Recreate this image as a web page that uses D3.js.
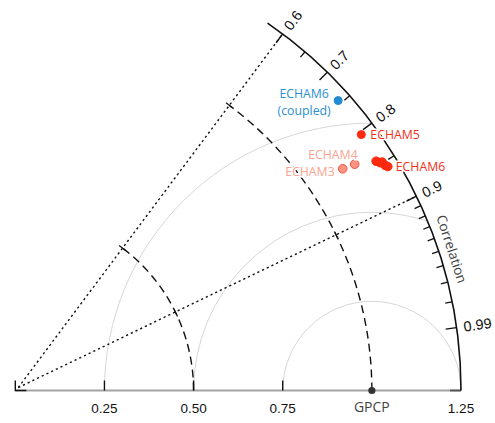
<!DOCTYPE html>
<html><head><meta charset="utf-8">
<script src="https://cdn.jsdelivr.net/npm/d3@7"></script>
<style>
html,body{margin:0;padding:0;background:#fff;}
svg{display:block;}
</style></head>
<body>
<svg id="chart" width="495" height="423"></svg>
<script>
// ---- data ----
const stdTicks = [0.25, 0.50, 0.75, 1.25];
const stdTickLabels = ["0.25", "0.50", "0.75", "1.25"];
const refName = "GPCP";
const refStd = 1.0;
const corrMajor = [0.6, 0.7, 0.8, 0.9, 0.99];
const corrMajorLabels = ["0.6", "0.7", "0.8", "0.9", "0.99"];
const corrMinor = [0.65, 0.75, 0.85, 0.91, 0.92, 0.93, 0.94, 0.95, 0.96, 0.97, 0.98];
const corrLines = [0.6, 0.9];
const stdArcs = [0.5, 1.0];
const rmsCircles = [0.25, 0.5, 0.75];
const pointNames = ["ECHAM6 (coupled)", "ECHAM5", "ECHAM4", "ECHAM3", "ECHAM6", "ECHAM6", "ECHAM6", "ECHAM6", "ECHAM6"];
const pointStd  = [1.217, 1.207, 1.144, 1.109, 1.199, 1.206, 1.212, 1.214, 1.219];
const pointCorr = [0.744, 0.804, 0.832, 0.828, 0.844, 0.848, 0.849, 0.854, 0.857];

// ---- layout ----
const svg = d3.select("#chart");
const cx = 15.3, cy = 390.5;
const maxStd = 1.25;
const r = d3.scaleLinear().domain([0, maxStd]).range([0, 445.7]);
const arcEndCorr = 0.566;
const pt = (s, c) => [cx + r(s) * c, cy - r(s) * Math.sqrt(1 - c * c)];
const g = svg.append("g");

const styleOf = {
  "ECHAM6 (coupled)": {fill: "#1f8bd0", stroke: "#1f8bd0", rad: 4, label: "#2a90d2"},
  "ECHAM5": {fill: "#ff2a0e", stroke: "#ff2a0e", rad: 4, label: "#f5301a"},
  "ECHAM4": {fill: "#fb9282", stroke: "#f2553f", rad: 4.3, label: "#f9a291"},
  "ECHAM3": {fill: "#fb9282", stroke: "#f2553f", rad: 4.3, label: "#f9a291"},
  "ECHAM6": {fill: "#ff2a0e", stroke: "#ff2a0e", rad: 4.3, label: "#f5301a"}
};

// clip for RMS circles
svg.append("clipPath").attr("id", "clipQ").append("path")
  .attr("d", () => {
    const p = d3.path();
    p.moveTo(cx, cy);
    p.lineTo(cx + r(maxStd), cy);
    p.arc(cx, cy, r(maxStd), 0, -Math.PI / 2, true);
    p.closePath();
    return p.toString();
  });

// RMS circles centered on reference
g.append("g").attr("clip-path", "url(#clipQ)")
  .selectAll("path").data(rmsCircles).join("path")
  .attr("d", d => {
    const p = d3.path();
    const x0 = cx + r(refStd);
    p.moveTo(x0 + r(d), cy);
    p.arc(x0, cy, r(d), 0, Math.PI, true);
    return p.toString();
  })
  .attr("fill", "none").attr("stroke", "#d6d6d6").attr("stroke-width", 1);

// baseline
g.append("line").attr("x1", cx).attr("x2", cx + r(maxStd)).attr("y1", cy).attr("y2", cy)
  .attr("stroke", "#a3a3a3").attr("stroke-width", 1.8);
g.append("path").attr("d", `M${cx},${cy - 10}V${cy}H${cx + 11}`)
  .attr("fill", "none").attr("stroke", "#111").attr("stroke-width", 1.4);
g.append("line").attr("x1", cx + r(maxStd) - 11).attr("x2", cx + r(maxStd)).attr("y1", cy).attr("y2", cy)
  .attr("stroke", "#555").attr("stroke-width", 1.8);

// correlation dotted lines
g.selectAll(".cl").data(corrLines).join("line")
  .attr("x1", cx + 3).attr("y1", cy - 3)
  .attr("x2", d => pt(maxStd, d)[0]).attr("y2", d => pt(maxStd, d)[1])
  .attr("stroke", "#111").attr("stroke-width", 1.4).attr("stroke-dasharray", "2.2,3");

// std dashed arcs
g.selectAll(".sa").data(stdArcs).join("path")
  .attr("d", d => {
    const p = d3.path();
    p.moveTo(cx + r(d), cy);
    p.arc(cx, cy, r(d), 0, -Math.acos(corrLines[0]), true);
    return p.toString();
  })
  .attr("fill", "none").attr("stroke", "#111").attr("stroke-width", 1.4).attr("stroke-dasharray", "8,5");

// small ticks where std arcs meet correlation lines
const crossTicks = [];
stdArcs.forEach(s => corrLines.forEach(c => crossTicks.push([s, c])));
g.selectAll(".xt").data(crossTicks).join("line")
  .each(function(d) {
    const [x, y] = pt(d[0], d[1]);
    const a = Math.acos(d[1]);
    const tx = Math.sin(a) * 4, ty = Math.cos(a) * 4;
    d3.select(this).attr("x1", x - tx).attr("y1", y - ty).attr("x2", x + tx).attr("y2", y + ty);
  })
  .attr("stroke", "#111").attr("stroke-width", 1.2);

// std axis ticks
g.selectAll(".st").data(stdTicks.filter(d => d < maxStd)).join("line")
  .attr("x1", d => cx + r(d)).attr("x2", d => cx + r(d))
  .attr("y1", cy).attr("y2", cy - 10)
  .attr("stroke", "#111").attr("stroke-width", 1.4);
g.selectAll(".sl").data(stdTicks).join("text")
  .attr("x", d => cx + r(d)).attr("y", 412.7)
  .attr("text-anchor", "middle")
  .attr("font-family", "Liberation Sans, Arial, sans-serif").attr("font-size", 13.5).attr("fill", "#111")
  .text((d, i) => stdTickLabels[i]);

// reference point
g.append("circle").attr("cx", cx + r(refStd)).attr("cy", cy).attr("r", 3.6).attr("fill", "#333");
g.append("text").attr("x", cx + r(refStd)).attr("y", 411.7).attr("text-anchor", "middle")
  .attr("font-family", "Open Sans, sans-serif").attr("font-size", 14).attr("fill", "#444").text(refName);

// outer arc
g.append("path").attr("d", () => {
  const p = d3.path();
  p.moveTo(cx + r(maxStd), cy);
  p.arc(cx, cy, r(maxStd), 0, -Math.acos(arcEndCorr), true);
  return p.toString();
}).attr("fill", "none").attr("stroke", "#111").attr("stroke-width", 1.6);

// correlation ticks
const tickLine = (c, len) => {
  const [x1, y1] = pt(maxStd, c);
  const s = r.invert(r(maxStd) - len);
  const [x2, y2] = pt(s, c);
  return {x1, y1, x2, y2};
};
g.selectAll(".cmj").data(corrMajor).join("line")
  .each(function(d) { const t = tickLine(d, 11); d3.select(this).attr("x1", t.x1).attr("y1", t.y1).attr("x2", t.x2).attr("y2", t.y2); })
  .attr("stroke", "#111").attr("stroke-width", 1.4);
g.selectAll(".cmn").data(corrMinor).join("line")
  .each(function(d) { const t = tickLine(d, 7); d3.select(this).attr("x1", t.x1).attr("y1", t.y1).attr("x2", t.x2).attr("y2", t.y2); })
  .attr("stroke", "#111").attr("stroke-width", 1.3);
g.selectAll(".cml").data(corrMajor).join("text")
  .attr("transform", d => {
    const [x, y] = pt(r.invert(r(maxStd) + 7), d);
    return `translate(${x},${y}) rotate(${-Math.acos(d) * 180 / Math.PI})`;
  })
  .attr("dy", "0.36em")
  .attr("font-family", "Liberation Sans, Arial, sans-serif").attr("font-size", 14.5).attr("fill", "#111")
  .text((d, i) => corrMajorLabels[i]);

// axis title
{
  const ang = 17.97 * Math.PI / 180;
  const rr = r(maxStd) + 13;
  const x = cx + rr * Math.cos(ang), y = cy - rr * Math.sin(ang);
  g.append("text").attr("transform", `translate(${x},${y}) rotate(${90 - 17.97})`)
    .attr("text-anchor", "middle").attr("dy", "0.35em")
    .attr("font-family", "Open Sans, sans-serif").attr("font-size", 13.5).attr("fill", "#444")
    .text("Correlation");
}

// points
const pts = pointNames.map((n, i) => ({name: n, s: pointStd[i], c: pointCorr[i]}));
g.selectAll(".pt").data(pts).join("circle")
  .attr("cx", d => pt(d.s, d.c)[0]).attr("cy", d => pt(d.s, d.c)[1])
  .attr("r", d => styleOf[d.name].rad)
  .attr("fill", d => styleOf[d.name].fill).attr("stroke", d => styleOf[d.name].stroke).attr("stroke-width", 1);

// labels
const labelDefs = [
  {name: "ECHAM6 (coupled)", lines: ["ECHAM6", "(coupled)"], dx: -34, dy: -2.5, anchor: "middle", lh: 16.5},
  {name: "ECHAM5", lines: ["ECHAM5"], dx: 9, dy: 4, anchor: "start"},
  {name: "ECHAM4", lines: ["ECHAM4"], dx: 3, dy: -5, anchor: "end"},
  {name: "ECHAM3", lines: ["ECHAM3"], dx: -8, dy: 7.5, anchor: "end"}
];
labelDefs.forEach(L => {
  const i = pointNames.indexOf(L.name);
  const [x, y] = pt(pointStd[i], pointCorr[i]);
  L.lines.forEach((ln, k) => {
    g.append("text").attr("x", x + L.dx).attr("y", y + L.dy + k * (L.lh || 0))
      .attr("text-anchor", L.anchor)
      .attr("font-family", "Open Sans, sans-serif").attr("font-size", 12.3)
      .attr("fill", styleOf[L.name].label)
      .attr("stroke", "#fff").attr("stroke-width", 3).attr("paint-order", "stroke")
      .text(ln);
  });
});
{
  const idx = pointNames.map((n, i) => n === "ECHAM6" ? i : -1).filter(i => i >= 0);
  const last = idx[idx.length - 1];
  const [x, y] = pt(pointStd[last], pointCorr[last]);
  g.append("text").attr("x", x + 8).attr("y", y + 4.7)
    .attr("font-family", "Open Sans, sans-serif").attr("font-size", 12.3)
    .attr("fill", styleOf["ECHAM6"].label)
    .attr("stroke", "#fff").attr("stroke-width", 3).attr("paint-order", "stroke")
    .text("ECHAM6");
}
</script>
</body></html>
